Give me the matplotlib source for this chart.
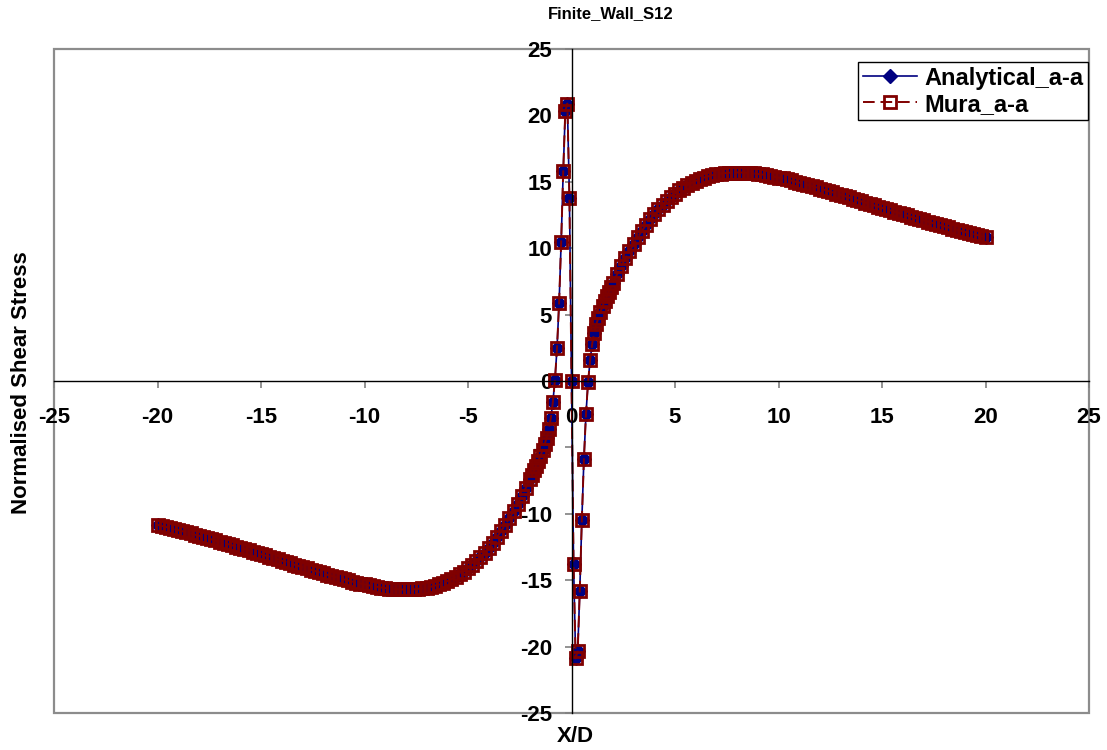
"""
Shear stress along the line through a finite dislocation wall:
analytical solution vs. Mura eigenstrain solution
"""

import numpy as np
import matplotlib.pyplot as plt
from matplotlib.patches import Rectangle

plt.rcParams["font.family"] = ["Liberation Sans", "DejaVu Sans"]
plt.rcParams["font.weight"] = "bold"
plt.rcParams["axes.unicode_minus"] = False

#far field, left of the wall (X/D = -20 ... -2.2)
x_far_left = [-20.0, -19.8, -19.6, -19.4, -19.2, -19.0, -18.8, -18.6, -18.4, -18.2,
              -18.0, -17.8, -17.6, -17.4, -17.2, -17.0, -16.8, -16.6, -16.4, -16.2,
              -16.0, -15.8, -15.6, -15.4, -15.2, -15.0, -14.8, -14.6, -14.4, -14.2,
              -14.0, -13.8, -13.6, -13.4, -13.2, -13.0, -12.8, -12.6, -12.4, -12.2,
              -12.0, -11.8, -11.6, -11.4, -11.2, -11.0, -10.8, -10.6, -10.4, -10.2,
              -10.0, -9.8, -9.6, -9.4, -9.2, -9.0, -8.8, -8.6, -8.4, -8.2,
              -8.0, -7.8, -7.6, -7.4, -7.2, -7.0, -6.8, -6.6, -6.4, -6.2,
              -6.0, -5.8, -5.6, -5.4, -5.2, -5.0, -4.8, -4.6, -4.4, -4.2,
              -4.0, -3.8, -3.6, -3.4, -3.2, -3.0, -2.8, -2.6, -2.4, -2.2]
s12_far_left = [-10.83, -10.91, -10.99, -11.07, -11.15, -11.23, -11.31, -11.40, -11.48, -11.57,
                -11.65, -11.74, -11.83, -11.92, -12.01, -12.10, -12.19, -12.28, -12.37, -12.47,
                -12.56, -12.65, -12.75, -12.85, -12.94, -13.04, -13.14, -13.23, -13.33, -13.43,
                -13.53, -13.62, -13.72, -13.82, -13.92, -14.02, -14.11, -14.21, -14.30, -14.40,
                -14.49, -14.59, -14.68, -14.76, -14.85, -14.94, -15.02, -15.10, -15.18, -15.25,
                -15.32, -15.38, -15.44, -15.50, -15.55, -15.59, -15.63, -15.66, -15.68, -15.70,
                -15.70, -15.70, -15.68, -15.65, -15.61, -15.56, -15.50, -15.41, -15.32, -15.20,
                -15.07, -14.92, -14.75, -14.56, -14.35, -14.11, -13.85, -13.57, -13.26, -12.92,
                -12.56, -12.17, -11.75, -11.30, -10.83, -10.32, -9.79, -9.23, -8.64, -8.03]

#near field around the wall (X/D = -2 ... 2)
x_core = [-2.0, -1.9, -1.8, -1.7, -1.6, -1.5, -1.4, -1.3, -1.2, -1.1,
          -1.0, -0.9, -0.8, -0.7, -0.6, -0.5, -0.4, -0.3, -0.2, -0.1,
          0.0,
          0.1, 0.2, 0.3, 0.4, 0.5, 0.6, 0.7, 0.8, 0.9, 1.0,
          1.1, 1.2, 1.3, 1.4, 1.5, 1.6, 1.7, 1.8, 1.9, 2.0]
s12_core = [-7.39, -7.06, -6.72, -6.37, -6.01, -5.63, -5.22, -4.78, -4.27, -3.64,
            -2.81, -1.59, 0.08, 2.48, 5.87, 10.43, 15.80, 20.33, 20.89, 13.80,
            0.00,
            -13.80, -20.89, -20.33, -15.80, -10.43, -5.87, -2.48, -0.08, 1.59, 2.81,
            3.64, 4.27, 4.78, 5.22, 5.63, 6.01, 6.37, 6.72, 7.06, 7.39]

#far field, right of the wall (X/D = 2.2 ... 20)
x_far_right = [2.2, 2.4, 2.6, 2.8, 3.0, 3.2, 3.4, 3.6, 3.8, 4.0,
               4.2, 4.4, 4.6, 4.8, 5.0, 5.2, 5.4, 5.6, 5.8, 6.0,
               6.2, 6.4, 6.6, 6.8, 7.0, 7.2, 7.4, 7.6, 7.8, 8.0,
               8.2, 8.4, 8.6, 8.8, 9.0, 9.2, 9.4, 9.6, 9.8, 10.0,
               10.2, 10.4, 10.6, 10.8, 11.0, 11.2, 11.4, 11.6, 11.8, 12.0,
               12.2, 12.4, 12.6, 12.8, 13.0, 13.2, 13.4, 13.6, 13.8, 14.0,
               14.2, 14.4, 14.6, 14.8, 15.0, 15.2, 15.4, 15.6, 15.8, 16.0,
               16.2, 16.4, 16.6, 16.8, 17.0, 17.2, 17.4, 17.6, 17.8, 18.0,
               18.2, 18.4, 18.6, 18.8, 19.0, 19.2, 19.4, 19.6, 19.8, 20.0]
s12_far_right = [8.03, 8.64, 9.23, 9.79, 10.32, 10.83, 11.30, 11.75, 12.17, 12.56,
                 12.92, 13.26, 13.57, 13.85, 14.11, 14.35, 14.56, 14.75, 14.92, 15.07,
                 15.20, 15.32, 15.41, 15.50, 15.56, 15.61, 15.65, 15.68, 15.70, 15.70,
                 15.70, 15.68, 15.66, 15.63, 15.59, 15.55, 15.50, 15.44, 15.38, 15.32,
                 15.25, 15.18, 15.10, 15.02, 14.94, 14.85, 14.76, 14.68, 14.59, 14.49,
                 14.40, 14.30, 14.21, 14.11, 14.02, 13.92, 13.82, 13.72, 13.62, 13.53,
                 13.43, 13.33, 13.23, 13.14, 13.04, 12.94, 12.85, 12.75, 12.65, 12.56,
                 12.47, 12.37, 12.28, 12.19, 12.10, 12.01, 11.92, 11.83, 11.74, 11.65,
                 11.57, 11.48, 11.40, 11.31, 11.23, 11.15, 11.07, 10.99, 10.91, 10.83]

x_d = np.concatenate([x_far_left, x_core, x_far_right])
s12_analytical = np.concatenate([s12_far_left, s12_core, s12_far_right])
s12_mura = np.concatenate([s12_far_left, s12_core, s12_far_right])

ticks = [-25, -20, -15, -10, -5, 0, 5, 10, 15, 20, 25]

fig = plt.figure(figsize=(11.07, 7.5), dpi=100)
ax = fig.add_axes([54/1107, 37/750, 1035/1107, 664/750])

ax.plot(x_d, s12_analytical, color="#000080", lw=1.2, marker="D", ms=7,
        mfc="#000080", mec="#000080", label="Analytical_a-a")
ax.plot(x_d, s12_mura, color="#800000", lw=1.4, dashes=(6, 3), marker="s", ms=8.5,
        mfc="none", mec="#800000", mew=2.0, label="Mura_a-a")

ax.set_xlim(-25, 25)
ax.set_ylim(-25, 25)

#axes cross at the origin, grey border around the plot area
ax.spines["left"].set_position(("data", 0))
ax.spines["bottom"].set_position(("data", 0))
ax.spines["top"].set_visible(False)
ax.spines["right"].set_visible(False)
for side in ["left", "bottom"]:
    ax.spines[side].set_color("black")
    ax.spines[side].set_linewidth(1.0)
ax.add_patch(Rectangle((0, 0), 1, 1, transform=ax.transAxes, fill=False,
                       edgecolor="#8c8c8c", lw=1.6, clip_on=False, zorder=0.5))

ax.set_xticks(ticks)
ax.set_yticks(ticks)
ax.tick_params(axis="x", direction="out", length=5, width=1.2, color="#808080",
               pad=14, labelsize=16)
ax.tick_params(axis="y", direction="out", length=5, width=1.2, color="#808080",
               pad=9, labelsize=16)
for lab in ax.get_xticklabels() + ax.get_yticklabels():
    lab.set_fontweight("bold")

fig.text(611/1107, 1 - 14/750, "Finite_Wall_S12", ha="center", va="center",
         fontsize=12, fontweight="bold")
fig.text(575/1107, 1 - 737/750, "X/D", ha="center", va="center",
         fontsize=16, fontweight="bold")
fig.text(22/1107, 1 - 383/750, "Normalised Shear Stress", ha="center", va="center",
         rotation=90, fontsize=16, fontweight="bold")

leg = ax.legend(loc="upper right", bbox_to_anchor=(1088/1107, 1 - 62/750),
                bbox_transform=fig.transFigure, borderaxespad=0, fontsize=17,
                handlelength=2.3, handletextpad=0.3, borderpad=0.2, labelspacing=0.12,
                fancybox=False, framealpha=1)
leg.get_frame().set_edgecolor("black")
leg.get_frame().set_linewidth(1.0)
for t in leg.get_texts():
    t.set_fontweight("bold")

plt.savefig("out.png", dpi=100)
